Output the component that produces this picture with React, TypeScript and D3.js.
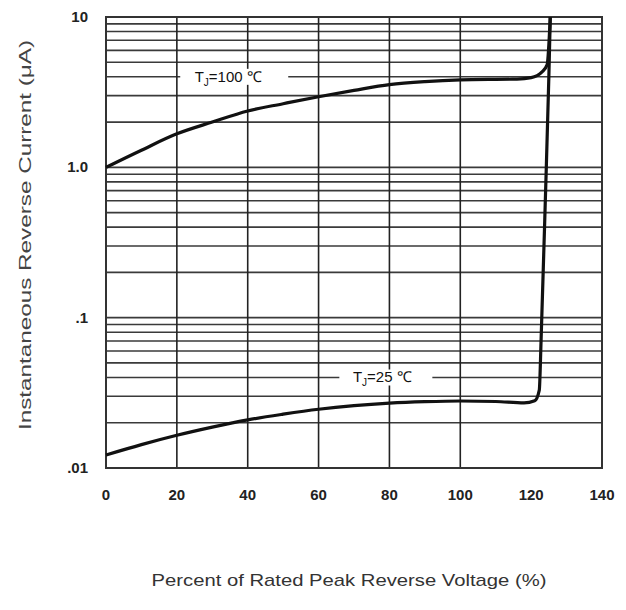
import React from 'react';
import * as d3 from 'd3';

// axis ticks
const xTicks = [0, 20, 40, 60, 80, 100, 120, 140];
const xGridLines = [20, 40, 60, 80, 100];
const yTicks = [0.01, 0.1, 1, 10];
const yTickLabels = ['.01', '.1', '1.0', '10'];

// T_J = 100 C curve
const pct100 = [0, 10, 20, 30, 40, 50, 60, 70, 80, 90, 100, 110, 116, 120, 123, 124.5, 125.4];
const cur100 = [1.0, 1.3, 1.67, 2.0, 2.37, 2.65, 2.95, 3.25, 3.55, 3.72, 3.82, 3.85, 3.86, 3.95, 4.3, 4.8, 10];

// T_J = 25 C curve
const pct25 = [0, 10, 20, 30, 40, 50, 60, 70, 80, 90, 100, 110, 118, 121, 122.3, 122.8, 124, 125, 125.4];
const cur25 = [0.0122, 0.0143, 0.0165, 0.0187, 0.0209, 0.0228, 0.0246, 0.026, 0.027, 0.0276, 0.0279, 0.0277, 0.0271, 0.028, 0.033, 0.07, 0.6, 4, 10];

const W = 626;
const H = 610;
const margin = { top: 17, right: 24, bottom: 142, left: 106 };

const App: React.FC = () => {
    const x = d3.scaleLinear().domain([0, 140]).range([margin.left, W - margin.right]);
    const y = d3.scaleLog().domain([0.01, 10]).range([H - margin.bottom, margin.top]);

    const line = d3.line<[number, number]>()
        .x(d => x(d[0]))
        .y(d => y(d[1]))
        .curve(d3.curveMonotoneX);

    const d100 = line(pct100.map((p, i) => [p, cur100[i]] as [number, number])) || '';
    const d25 = line(pct25.map((p, i) => [p, cur25[i]] as [number, number])) || '';

    const [x0, x1] = x.range();
    const [y0, y1] = y.range();
    const hGrid = y.ticks().filter(v => v > 0.01 && v < 10);

    const tickFont = { fontFamily: 'Liberation Sans, Arial, sans-serif', fontSize: 15, fontWeight: 700, fill: '#222' };
    const labelFont = { fontFamily: 'Liberation Sans, Arial, sans-serif', fontSize: 15, fill: '#111' };

    const label = (cx: number, cy: number, txt: string, left: number, right: number) => (
        <g>
            <rect x={cx - left} y={cy - 8} width={left + right} height={16} fill="white" />
            <text x={cx} y={cy + 5} textAnchor="middle" {...labelFont}>
                <tspan>T</tspan>
                <tspan dy={4} fontSize={10}>J</tspan>
                <tspan dy={-4}>{txt}</tspan>
            </text>
        </g>
    );

    return (
        <div style={{ position: 'absolute', left: 0, top: 0 }}>
            <svg width={W} height={H} style={{ display: 'block', background: 'white' }}>
                {/* horizontal log grid */}
                {hGrid.map(v => (
                    <line key={'h' + v} x1={x0} x2={x1} y1={y(v)} y2={y(v)} stroke="#3a3a3a" strokeWidth={1.6} />
                ))}
                {/* vertical grid */}
                {xGridLines.map(v => (
                    <line key={'v' + v} x1={x(v)} x2={x(v)} y1={y0} y2={y1} stroke="#222" strokeWidth={1.6} />
                ))}
                {/* frame */}
                <rect x={x0} y={y1} width={x1 - x0} height={y0 - y1} fill="none" stroke="#333" strokeWidth={2} />

                {/* curve labels */}
                {label(x(34.5), y(4), '=100 ℃', 48, 60)}
                {label(x(78), y(0.04), '=25 ℃', 43, 50)}

                {/* curves */}
                <path d={d100} fill="none" stroke="#111" strokeWidth={3.2} strokeLinejoin="round" />
                <path d={d25} fill="none" stroke="#111" strokeWidth={3.2} strokeLinejoin="round" />

                {/* y tick labels */}
                {yTicks.map((v, i) => (
                    <text key={'yt' + v} x={88} y={y(v) + 5} textAnchor="end" {...tickFont}>{yTickLabels[i]}</text>
                ))}
                {/* x tick labels */}
                {xTicks.map(v => (
                    <text key={'xt' + v} x={x(v)} y={500} textAnchor="middle" {...tickFont}>{v}</text>
                ))}

                {/* axis titles */}
                <text
                    transform={`translate(31,235) rotate(-90)`}
                    textAnchor="middle"
                    fontFamily="Liberation Sans, Arial, sans-serif"
                    fontSize={17}
                    fill="#444"
                    textLength={390}
                    lengthAdjust="spacingAndGlyphs"
                >
                    Instantaneous Reverse Current (μA)
                </text>
                <text
                    x={349}
                    y={586}
                    textAnchor="middle"
                    fontFamily="Liberation Sans, Arial, sans-serif"
                    fontSize={17}
                    fill="#333"
                    textLength={395}
                    lengthAdjust="spacingAndGlyphs"
                >
                    Percent of Rated Peak Reverse Voltage (%)
                </text>
            </svg>
        </div>
    );
};

export default App;
